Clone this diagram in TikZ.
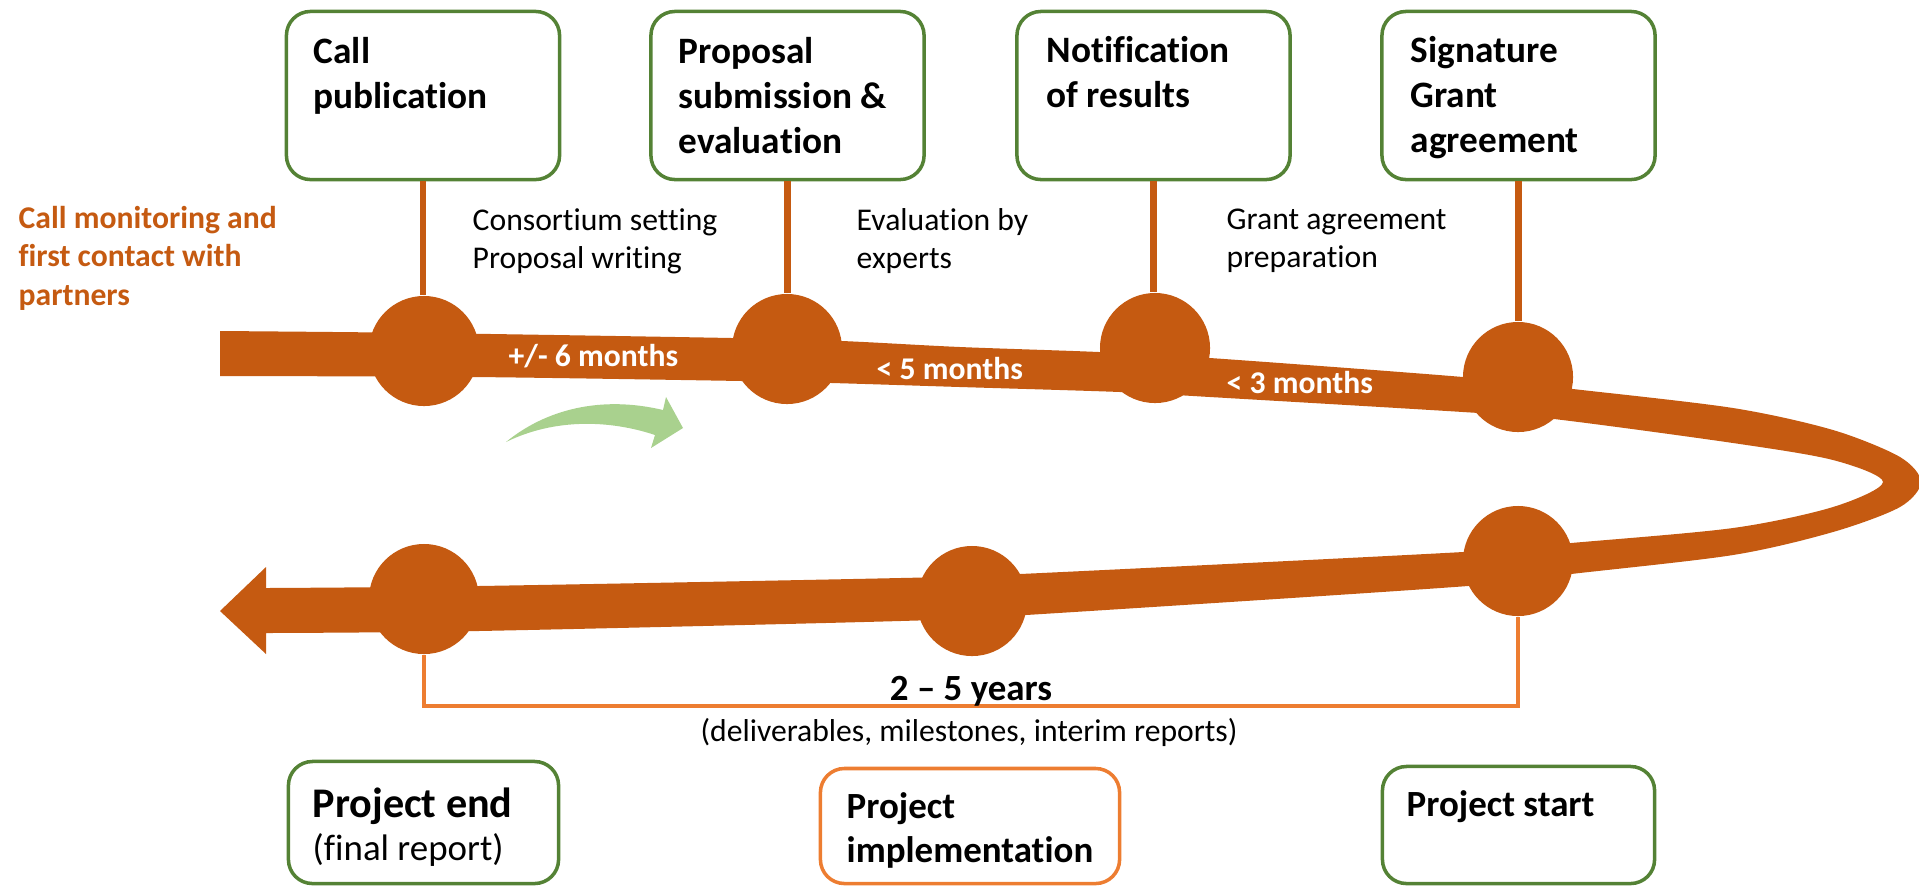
\documentclass[tikz,border=0pt]{standalone}
\usepackage{fontspec}
\setmainfont{Carlito}[Ligatures={TeX,NoCommon}]
\definecolor{rust}{HTML}{C55A11}
\definecolor{leaf}{HTML}{548235}
\definecolor{amber}{HTML}{ED7D31}
\definecolor{sprout}{HTML}{A9D18E}

\tikzset{
  phasebox/.style={draw=leaf, line width=1pt, rounded corners=0.24cm, minimum width=2.73cm, minimum height=1.68cm, inner sep=0pt},
  phasetext/.style={anchor=base west, align=left, inner sep=0pt, font=\fontsize{10.6}{12.7}\selectfont\bfseries},
  milestone/.style={circle, fill=rust, minimum size=1.1cm, inner sep=0pt},
  stem/.style={draw=rust, line width=1.8pt},
  note/.style={anchor=base west, align=left, inner sep=0pt, font=\fontsize{9}{10.8}\selectfont},
  duration/.style={anchor=base west, inner sep=0pt, text=white, font=\fontsize{9}{10.8}\selectfont\bfseries},
}

\begin{document}
\begin{tikzpicture}[x=0.01cm, y=-0.01cm]
  \useasboundingbox (0,0) rectangle (1919,887);
  \clip (0,0) rectangle (1919,887);

  % the timeline band with its loop and arrow head
  \fill[rust] plot[smooth] coordinates {(220,331) (424,333) (732,338) (842,341) (960,347) (1099,352) (1210,358) (1463,377) (1573,389) (1733,408) (1833,430) (1900,457) (1921,482) (1900,507) (1833,532) (1733,555) (1571,574) (1468,586) (1026,615) (900,621) (478,631) (266,633)}
    -- (266,654) -- (220,611) -- (266,567)
    -- plot[smooth] coordinates {(266,588) (478,586) (900,578) (1020,574) (1463,552) (1571,543) (1733,528) (1833,507) (1883,482) (1833,460) (1733,443) (1554,419) (1463,412) (1210,397) (1120,392) (960,387) (832,383) (742,381) (474,377) (220,376)} -- cycle;

  % green arrow
  \fill[sprout] (506,442) .. controls (545,410) and (600,395) .. (663,410) -- (666,397) -- (683,428) -- (651,448) -- (655,435) .. controls (610,420) and (555,418) .. (506,442) -- cycle;

  % milestones
  \node[milestone] (callpt) at (424,351) {};
  \node[milestone] (proposalpt) at (787,349) {};
  \node[milestone] (notifpt) at (1155,348) {};
  \node[milestone] (signpt) at (1518,377) {};
  \node[milestone] (startpt) at (1518,561) {};
  \node[milestone] (implpt) at (972,601) {};
  \node[milestone] (endpt) at (424,599) {};

  % top boxes (text placed by the baseline of its last line)
  \node[phasebox] (callbox) at (423,95.5) {};
  \node[phasebox] (proposalbox) at (787.5,95.5) {};
  \node[phasebox] (notifbox) at (1153.5,95.5) {};
  \node[phasebox] (signbox) at (1518.5,95.5) {};
  \node[phasetext] (calltxt) at (313,108) {Call\\publication};
  \node[phasetext] (proposaltxt) at (678,153) {Proposal\\submission \&\\evaluation};
  \node[phasetext] (notiftxt) at (1046,107) {Notification\\of results};
  \node[phasetext] (signtxt) at (1410,152) {Signature\\Grant\\agreement};

  \draw[stem] (callbox.south) -- (callbox.south |- callpt.north);
  \draw[stem] (proposalbox.south) -- (proposalbox.south |- proposalpt.north);
  \draw[stem] (notifbox.south) -- (notifbox.south |- notifpt.north);
  \draw[stem] (signbox.south) -- (signbox.south |- signpt.north);

  % notes between the stems
  \node[note, text=rust, font=\fontsize{9}{10.9}\selectfont\bfseries] (monitor) at (18,305) {Call monitoring and\\first contact with\\partners};
  \node[note] (setting) at (472,268) {Consortium setting\\Proposal writing};
  \node[note] (experts) at (856,268) {Evaluation by\\experts};
  \node[note] (prep) at (1226,267) {Grant agreement\\preparation};

  \node[duration] (six) at (508,366) {+/- 6 months};
  \node[duration] (five) at (876,379) {< 5 months};
  \node[duration] (three) at (1226,393) {< 3 months};

  % project span
  \coordinate (span) at (970,706);
  \draw[amber, line width=1.3pt] (endpt.south) |- (span) -| (startpt.south);
  \node[anchor=base, inner sep=0pt, font=\fontsize{10.5}{12}\selectfont\bfseries] (years) at (971,700) {2 – 5 years};
  \node[note, anchor=base] (outputs) at (969,741) {(deliverables, milestones, interim reports)};

  % bottom boxes
  \node[phasebox, minimum width=2.70cm, minimum height=1.22cm] (endbox) at (423.5,822.5) {};
  \node[phasebox, draw=amber, minimum width=2.99cm, minimum height=1.15cm] (implbox) at (970,826) {};
  \node[phasebox, minimum width=2.72cm, minimum height=1.17cm] (startbox) at (1518.5,825) {};
  \node[phasetext, font=\fontsize{10.5}{12.2}\selectfont] (endtxt) at (312,860) {{\fontsize{12}{12.2}\selectfont\bfseries Project end}\\(final report)};
  \node[phasetext, font=\fontsize{10.5}{12.5}\selectfont\bfseries] (impltxt) at (846,862) {Project\\implementation};
  \node[phasetext, font=\fontsize{10.5}{12.5}\selectfont\bfseries] (starttxt) at (1406,816) {Project start};
\end{tikzpicture}
\end{document}
